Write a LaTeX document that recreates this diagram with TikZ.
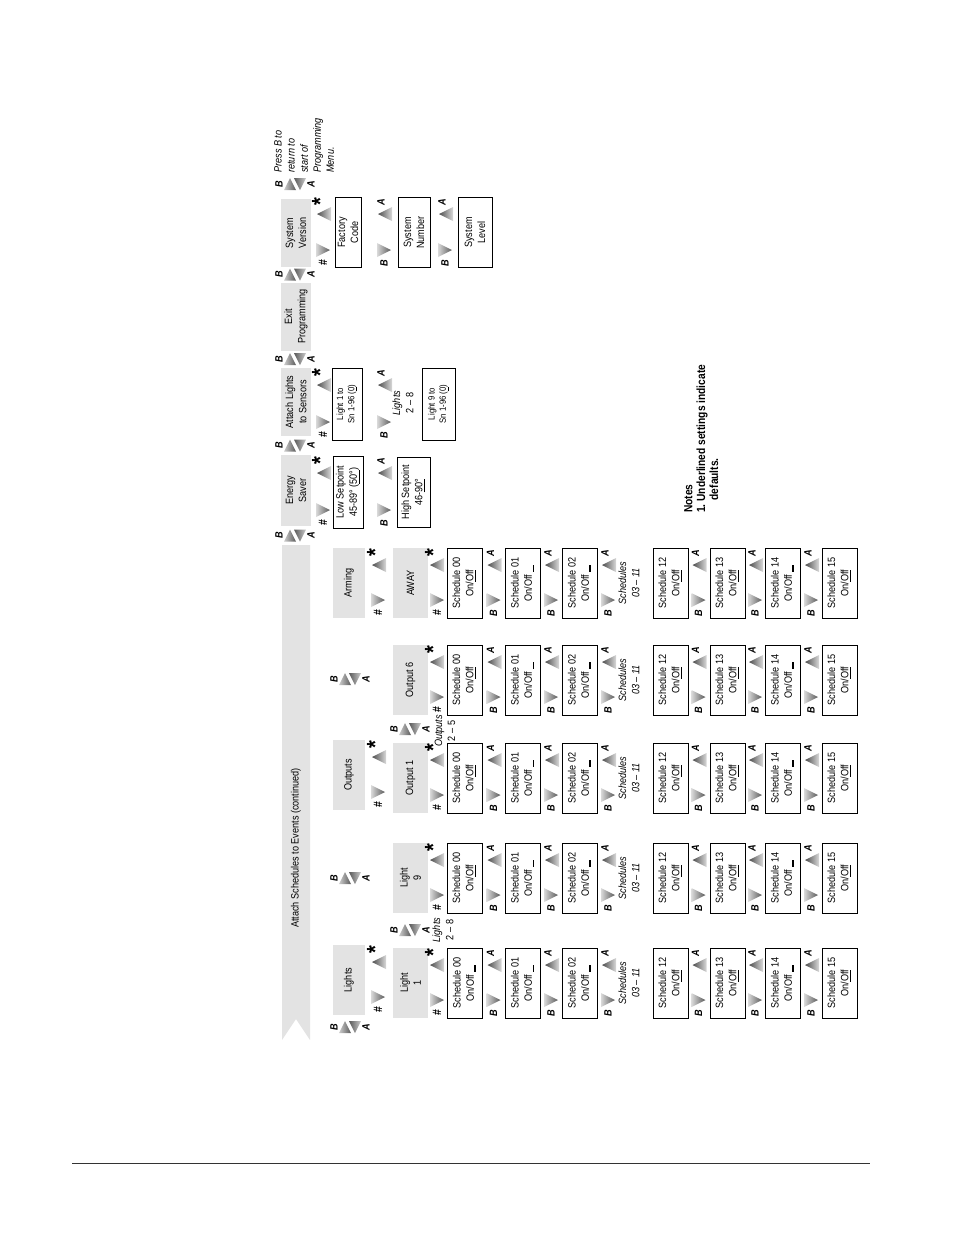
\documentclass[tikz,border=0pt]{standalone}
\usepackage{fontspec}
\setmainfont{Liberation Sans}[FakeStretch=0.86]

\newcommand{\boxfont}{\fontsize{6.8}{8.4}\selectfont}
\newcommand{\tinyfont}{\fontsize{5.8}{7.2}\selectfont}
\newcommand{\notefont}{\fontsize{7.6}{8.2}\selectfont\bfseries}
\newcommand{\keyfont}{\fontsize{6.8}{7}\selectfont\bfseries\itshape}
\newcommand{\keyast}{\fontsize{15}{15}\selectfont\upshape *}
\newcommand{\keyhash}{\fontsize{7.8}{8}\selectfont\upshape\#}
\newcommand{\ulOff}{On/\underline{Off}}
\newcommand{\barOff}[1]{On/Off\kern2pt\rule[-1.4pt]{4.5pt}{#1}}
\newcommand{\zeroOff}{\ifnum\c=1 \barOff{1.3pt}\else\ulOff\fi}

% key marker with a right-pointing wedge: name, text, x, bottom of column
\newcommand{\keydown}[4]{%
  \shade[left color=black!15, right color=black!65] (#3-7,#4-25) -- (#3+7,#4-18) -- (#3-7,#4-11) -- cycle;
  \node[keylbl] (#1) at (#3,#4-5) {#2};
}
% key marker with a left-pointing wedge: name, text, x, top of column
\newcommand{\keyup}[4]{%
  \shade[left color=black!70, right color=black!15] (#3-6,#4+17) -- (#3+8,#4+10) -- (#3+8,#4+24) -- cycle;
  \node[keylbl] (#1) at (#3-3,#4+5) {#2};
}
% B and A keys between two menus: name, x, y
\newcommand{\keypair}[3]{%
  \shade[left color=black!20, right color=black!65] (#2-11,#3+6) -- (#2+1,#3+6) -- (#2-5,#3-6) -- cycle;
  \shade[left color=black!65, right color=black!20] (#2-1,#3-6) -- (#2+11,#3-6) -- (#2+5,#3+6) -- cycle;
  \node[keylbl] (#1-b) at (#2-16,#3) {B};
  \node[keylbl] (#1-a) at (#2+16,#3) {A};
}

\tikzset{
  lbl/.style={rotate=90, inner sep=0pt, align=center, font=\boxfont},
  hinttext/.style={lbl, font=\boxfont\itshape},
  keylbl/.style={rotate=90, inner sep=0pt, font=\keyfont},
  menubox/.style={lbl, fill=black!11, minimum width=68*0.6415pt, minimum height=30*0.6415pt},
  valbox/.style={lbl, draw, line width=0.6pt, minimum width=70*0.6415pt, minimum height=35*0.6415pt},
}

\begin{document}
\begin{tikzpicture}[x=0.6415pt, y=-0.6415pt]
  \useasboundingbox (0,0) rectangle (954,1235);

  % Draw the top menu row
  \fill[black!11] (282,545) -- (310,545) -- (310,1040) -- (296,1019) -- (282,1040) -- cycle;
  \node[lbl] (attach) at (296,848) {Attach Schedules to Events (continued)};
  \node[menubox, minimum width=71*0.6415pt] (energy) at (296,490.5) {Energy\\Saver};
  \node[menubox] (sensors) at (296,402) {Attach Lights\\to Sensors};
  \node[menubox] (exit) at (296,316.5) {Exit\\Programming};
  \node[menubox] (version) at (296,233) {System\\Version};
  \keypair{kp1}{295}{535.5}
  \keypair{kp2}{295}{445.5}
  \keypair{kp3}{295}{359}
  \keypair{kp4}{295}{274.5}
  \keypair{kp5}{295}{184}
  \node[hinttext, align=left, anchor=north west] (pressb) at (274,173)
    {Press B to\\return to\\start of\\Programming\\Menu.};

  % System Version column
  \keyup{vst}{\keyast}{323}{197}
  \keydown{vhs}{\keyhash}{323}{268}
  \node[valbox, minimum height=26*0.6415pt] (factory) at (348,232.5) {Factory\\Code};
  \keyup{va1}{A}{384}{197}
  \keydown{vb1}{B}{384}{268}
  \node[valbox, minimum height=32*0.6415pt] (sysnum) at (414,232.5) {System\\Number};
  \keyup{va2}{A}{445}{197}
  \keydown{vb2}{B}{445}{268}
  \node[valbox, minimum height=34*0.6415pt] (syslevel) at (475,232.5) {System\\Level};

  % Attach Lights to Sensors column
  \keyup{sst}{\keyast}{323}{368}
  \keydown{shs}{\keyhash}{323}{440}
  \node[valbox, minimum width=72*0.6415pt, minimum height=30*0.6415pt, font=\tinyfont] (sens1) at (347,404) {Light 1 to\\Sn 1-96 (\underline{0})};
  \keyup{sa1}{A}{384}{368}
  \keydown{sb1}{B}{384}{440}
  \node[hinttext] (morelights) at (403,403) {Lights\\\upshape 2 -- 8};
  \node[valbox, minimum width=72*0.6415pt, minimum height=33*0.6415pt, font=\tinyfont] (sens9) at (438.5,404) {Light 9 to\\Sn 1-96 (\underline{0})};

  % Energy Saver column
  \keyup{est}{\keyast}{323}{456}
  \keydown{ehs}{\keyhash}{323}{528}
  \node[valbox, minimum width=72*0.6415pt, minimum height=30*0.6415pt] (lowset) at (348,492) {Low Setpoint\\45-89° (\underline{50°})};
  \keyup{ea1}{A}{384}{456}
  \keydown{eb1}{B}{384}{528}
  \node[valbox, minimum height=33*0.6415pt] (highset) at (413.5,492) {High Setpoint\\46-\underline{90°}};

  % Event menus
  \node[menubox, minimum width=70*0.6415pt, minimum height=32*0.6415pt] (lights) at (349,980) {Lights};
  \node[menubox, minimum width=70*0.6415pt, minimum height=32*0.6415pt] (outputs) at (349,775) {Outputs};
  \node[menubox, minimum width=70*0.6415pt, minimum height=32*0.6415pt] (arming) at (349,583) {Arming};
  \keypair{kp6}{350}{1027}
  \keypair{kp7}{350}{878}
  \keypair{kp8}{350}{679}
  \keyup{lst}{\keyast}{378}{945}
  \keydown{lhs}{\keyhash}{378}{1015}
  \keyup{ost}{\keyast}{378}{740}
  \keydown{ohs}{\keyhash}{378}{810}
  \keyup{ast}{\keyast}{378}{548}
  \keydown{ahs}{\keyhash}{378}{618}

  % Second level menus
  \node[menubox, minimum width=70*0.6415pt, minimum height=35*0.6415pt] (light1) at (410.5,983) {Light\\1};
  \node[menubox, minimum width=70*0.6415pt, minimum height=35*0.6415pt] (light9) at (410.5,878) {Light\\9};
  \node[menubox, minimum width=70*0.6415pt, minimum height=35*0.6415pt] (output1) at (410.5,778) {Output 1};
  \node[menubox, minimum width=70*0.6415pt, minimum height=35*0.6415pt] (output6) at (410.5,680) {Output 6};
  \node[menubox, minimum width=70*0.6415pt, minimum height=35*0.6415pt] (away) at (410.5,583) {AWAY};
  \keypair{kp9}{410}{930}
  \keypair{kp10}{410}{729}
  \node[hinttext] (lightsrange) at (443,930) {Lights\\\upshape 2 -- 8};
  \node[hinttext] (outputsrange) at (445,731) {Outputs\\\upshape 2 -- 5};

  % Schedule boxes for every event
  \foreach \c/\yc in {1/983, 2/878, 3/778, 4/680, 5/583} {
    \foreach \r/\xc/\st in {00/464.5/\zeroOff, 01/522.5/\barOff{0.5pt}, 02/579.5/\barOff{1.3pt},
        12/670.5/\ulOff, 13/727.5/\ulOff, 14/782.5/\barOff{1.3pt}, 15/839.5/\ulOff} {
      \node[valbox] (s\c-\r) at (\xc,\yc) {Schedule \r\\\st};
    }
    \keyup{st\c}{\keyast}{436}{\yc-35}
    \keydown{hs\c}{\keyhash}{437}{\yc+35}
    \foreach \m/\xm in {1/493.5, 2/551, 3/608, 4/698.5, 5/755, 6/811} {
      \keyup{a\c-\m}{A}{\xm}{\yc-35}
      \keydown{b\c-\m}{B}{\xm}{\yc+35}
    }
    \node[hinttext] (more\c) at (629,\yc) {Schedules\\03 -- 11};
  }

  % Notes
  \node[lbl, align=left, anchor=north west, font=\notefont] (notes) at (684,513)
    {Notes\\1.~Underlined settings indicate\\\hspace*{8pt}defaults.};

  % Page rule
  \draw[line width=0.5pt, black!80] (72,1163) coordinate (rulel) -- (870,1163) coordinate (ruler);
\end{tikzpicture}
\end{document}
